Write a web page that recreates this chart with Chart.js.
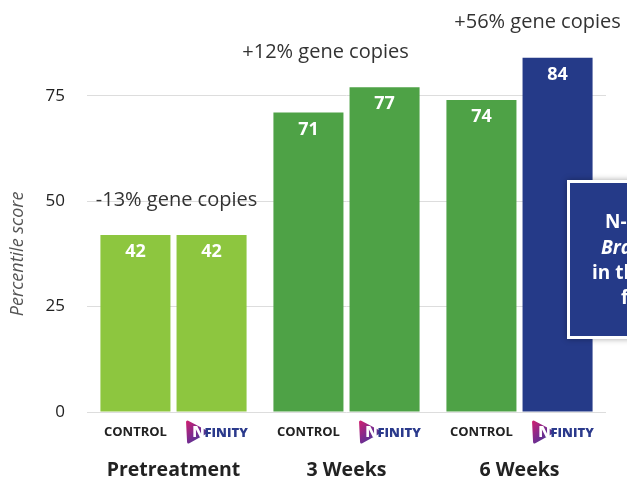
<!DOCTYPE html>
<html>
<head>
<meta charset="utf-8">
<script src="https://cdn.jsdelivr.net/npm/chart.js@4.4.1/dist/chart.umd.min.js"></script>
<style>
  html, body { margin: 0; background: #fff; }
  #wrap { width: 627px; height: 477px; position: relative; }
</style>
</head>
<body>
<div id="wrap"><canvas id="chart"></canvas></div>
<script>
const categories = ["Pretreatment", "3 Weeks", "6 Weeks"];
const controlScores = [42, 71, 74];
const nfinityScores = [42, 77, 84];
const geneCopyNotes = ["-13% gene copies", "+12% gene copies", "+56% gene copies"];
const yTicks = [0, 25, 50, 75];
const controlColors = ["#8dc63f", "#4ea246", "#4ea246"];
const nfinityColors = ["#8dc63f", "#4ea246", "#253a88"];
const calloutLines = ["N-FINITY", "Brain", "in the", "f"];

const FONT = "'Open Sans', Lato, sans-serif";
const noteOffsets = [3, -21, 18];

function drawLogo(ctx, cx, cy) {
  const x0 = cx - 31;
  const grad = ctx.createLinearGradient(x0, cy - 11, x0 + 22, cy + 11);
  grad.addColorStop(0, "#d21f6f");
  grad.addColorStop(0.5, "#7a2b8f");
  grad.addColorStop(1, "#2c3f94");
  ctx.save();
  ctx.fillStyle = grad;
  ctx.lineJoin = "round";
  ctx.lineWidth = 3;
  ctx.strokeStyle = grad;
  ctx.beginPath();
  ctx.moveTo(x0 + 2, cy - 10);
  ctx.lineTo(x0 + 21, cy);
  ctx.lineTo(x0 + 3, cy + 10);
  ctx.closePath();
  ctx.fill();
  ctx.stroke();
  ctx.fillStyle = "#ffffff";
  ctx.font = "800 15px " + FONT;
  ctx.textAlign = "center";
  ctx.textBaseline = "middle";
  ctx.fillText("N", x0 + 13, cy + 1);
  ctx.fillStyle = "#2b3a8c";
  ctx.font = "800 13px " + FONT;
  ctx.textAlign = "left";
  ctx.fillText("FINITY", x0 + 19, cy + 1);
  ctx.restore();
}

const annotations = {
  id: "annotations",
  afterDatasetsDraw(chart) {
    const ctx = chart.ctx;
    const y = chart.scales.y;
    const x = chart.scales.x;
    const metaA = chart.getDatasetMeta(0);
    const metaB = chart.getDatasetMeta(1);
    ctx.save();

    // values inside the bars
    ctx.fillStyle = "#ffffff";
    ctx.font = "bold 18px " + FONT;
    ctx.textAlign = "center";
    ctx.textBaseline = "middle";
    [metaA, metaB].forEach((meta, d) => {
      meta.data.forEach((bar, i) => {
        ctx.fillText(chart.data.datasets[d].data[i], bar.x, bar.y + 17);
      });
    });

    // gene copies notes
    ctx.fillStyle = "#333333";
    ctx.font = "20px " + FONT;
    geneCopyNotes.forEach((note, i) => {
      const top = Math.min(metaA.data[i].y, metaB.data[i].y);
      ctx.fillText(note, x.getPixelForValue(i) + noteOffsets[i], top - 35);
    });

    // per-bar labels
    metaA.data.forEach((bar, i) => {
      ctx.fillStyle = "#222222";
      ctx.font = "bold 13px " + FONT;
      ctx.fillText("CONTROL", bar.x, 432);
      drawLogo(ctx, metaB.data[i].x + 5, 432);
    });

    // category labels
    ctx.fillStyle = "#222222";
    ctx.font = "bold 19.5px " + FONT;
    categories.forEach((c, i) => {
      ctx.fillText(c, x.getPixelForValue(i), 470);
    });

    // y axis title, centred on the labelled range
    const midY = (y.getPixelForValue(yTicks[0]) + y.getPixelForValue(yTicks[yTicks.length - 1])) / 2;
    ctx.translate(18, midY);
    ctx.rotate(-Math.PI / 2);
    ctx.fillStyle = "#555555";
    ctx.font = "italic 18px " + FONT;
    ctx.fillText("Percentile score", 0, 0);
    ctx.restore();

    // callout box on the right
    ctx.save();
    ctx.shadowColor = "rgba(0,0,0,0.35)";
    ctx.shadowBlur = 6;
    ctx.fillStyle = "#ffffff";
    ctx.fillRect(567, 180, 80, 159);
    ctx.restore();
    ctx.save();
    ctx.fillStyle = "#253a88";
    ctx.fillRect(570, 183, 80, 153);
    ctx.fillStyle = "#ffffff";
    ctx.textBaseline = "middle";
    ctx.textAlign = "left";
    const lineX = [605, 601, 592, 621];
    const lineY = [223, 249, 274, 299];
    calloutLines.forEach((t, i) => {
      ctx.font = (i === 1 ? "italic bold 19px " : "bold 19px ") + FONT;
      ctx.fillText(t, lineX[i], lineY[i]);
    });
    ctx.restore();
  }
};

new Chart(document.getElementById("chart"), {
  type: "bar",
  data: {
    labels: categories,
    datasets: [
      { label: "Control", data: controlScores, backgroundColor: controlColors },
      { label: "N-FINITY", data: nfinityScores, backgroundColor: nfinityColors }
    ]
  },
  options: {
    responsive: true,
    maintainAspectRatio: false,
    animation: false,
    events: [],
    categoryPercentage: 0.88,
    barPercentage: 0.92,
    layout: { padding: { top: 43, right: 21, bottom: 57, left: 0 } },
    plugins: { legend: { display: false }, tooltip: { enabled: false } },
    scales: {
      x: {
        grid: { display: false },
        border: { display: false },
        ticks: { display: false }
      },
      y: {
        min: 0,
        max: 87.5,
        afterBuildTicks: scale => { scale.ticks = yTicks.map(v => ({ value: v })); },
        afterFit: scale => { scale.width = 87; },
        grid: { color: "#dddddd", drawTicks: false },
        border: { display: false },
        ticks: {
          padding: 22,
          color: "#222222",
          font: { family: FONT, size: 17 }
        }
      }
    }
  },
  plugins: [annotations]
});
</script>
</body>
</html>
